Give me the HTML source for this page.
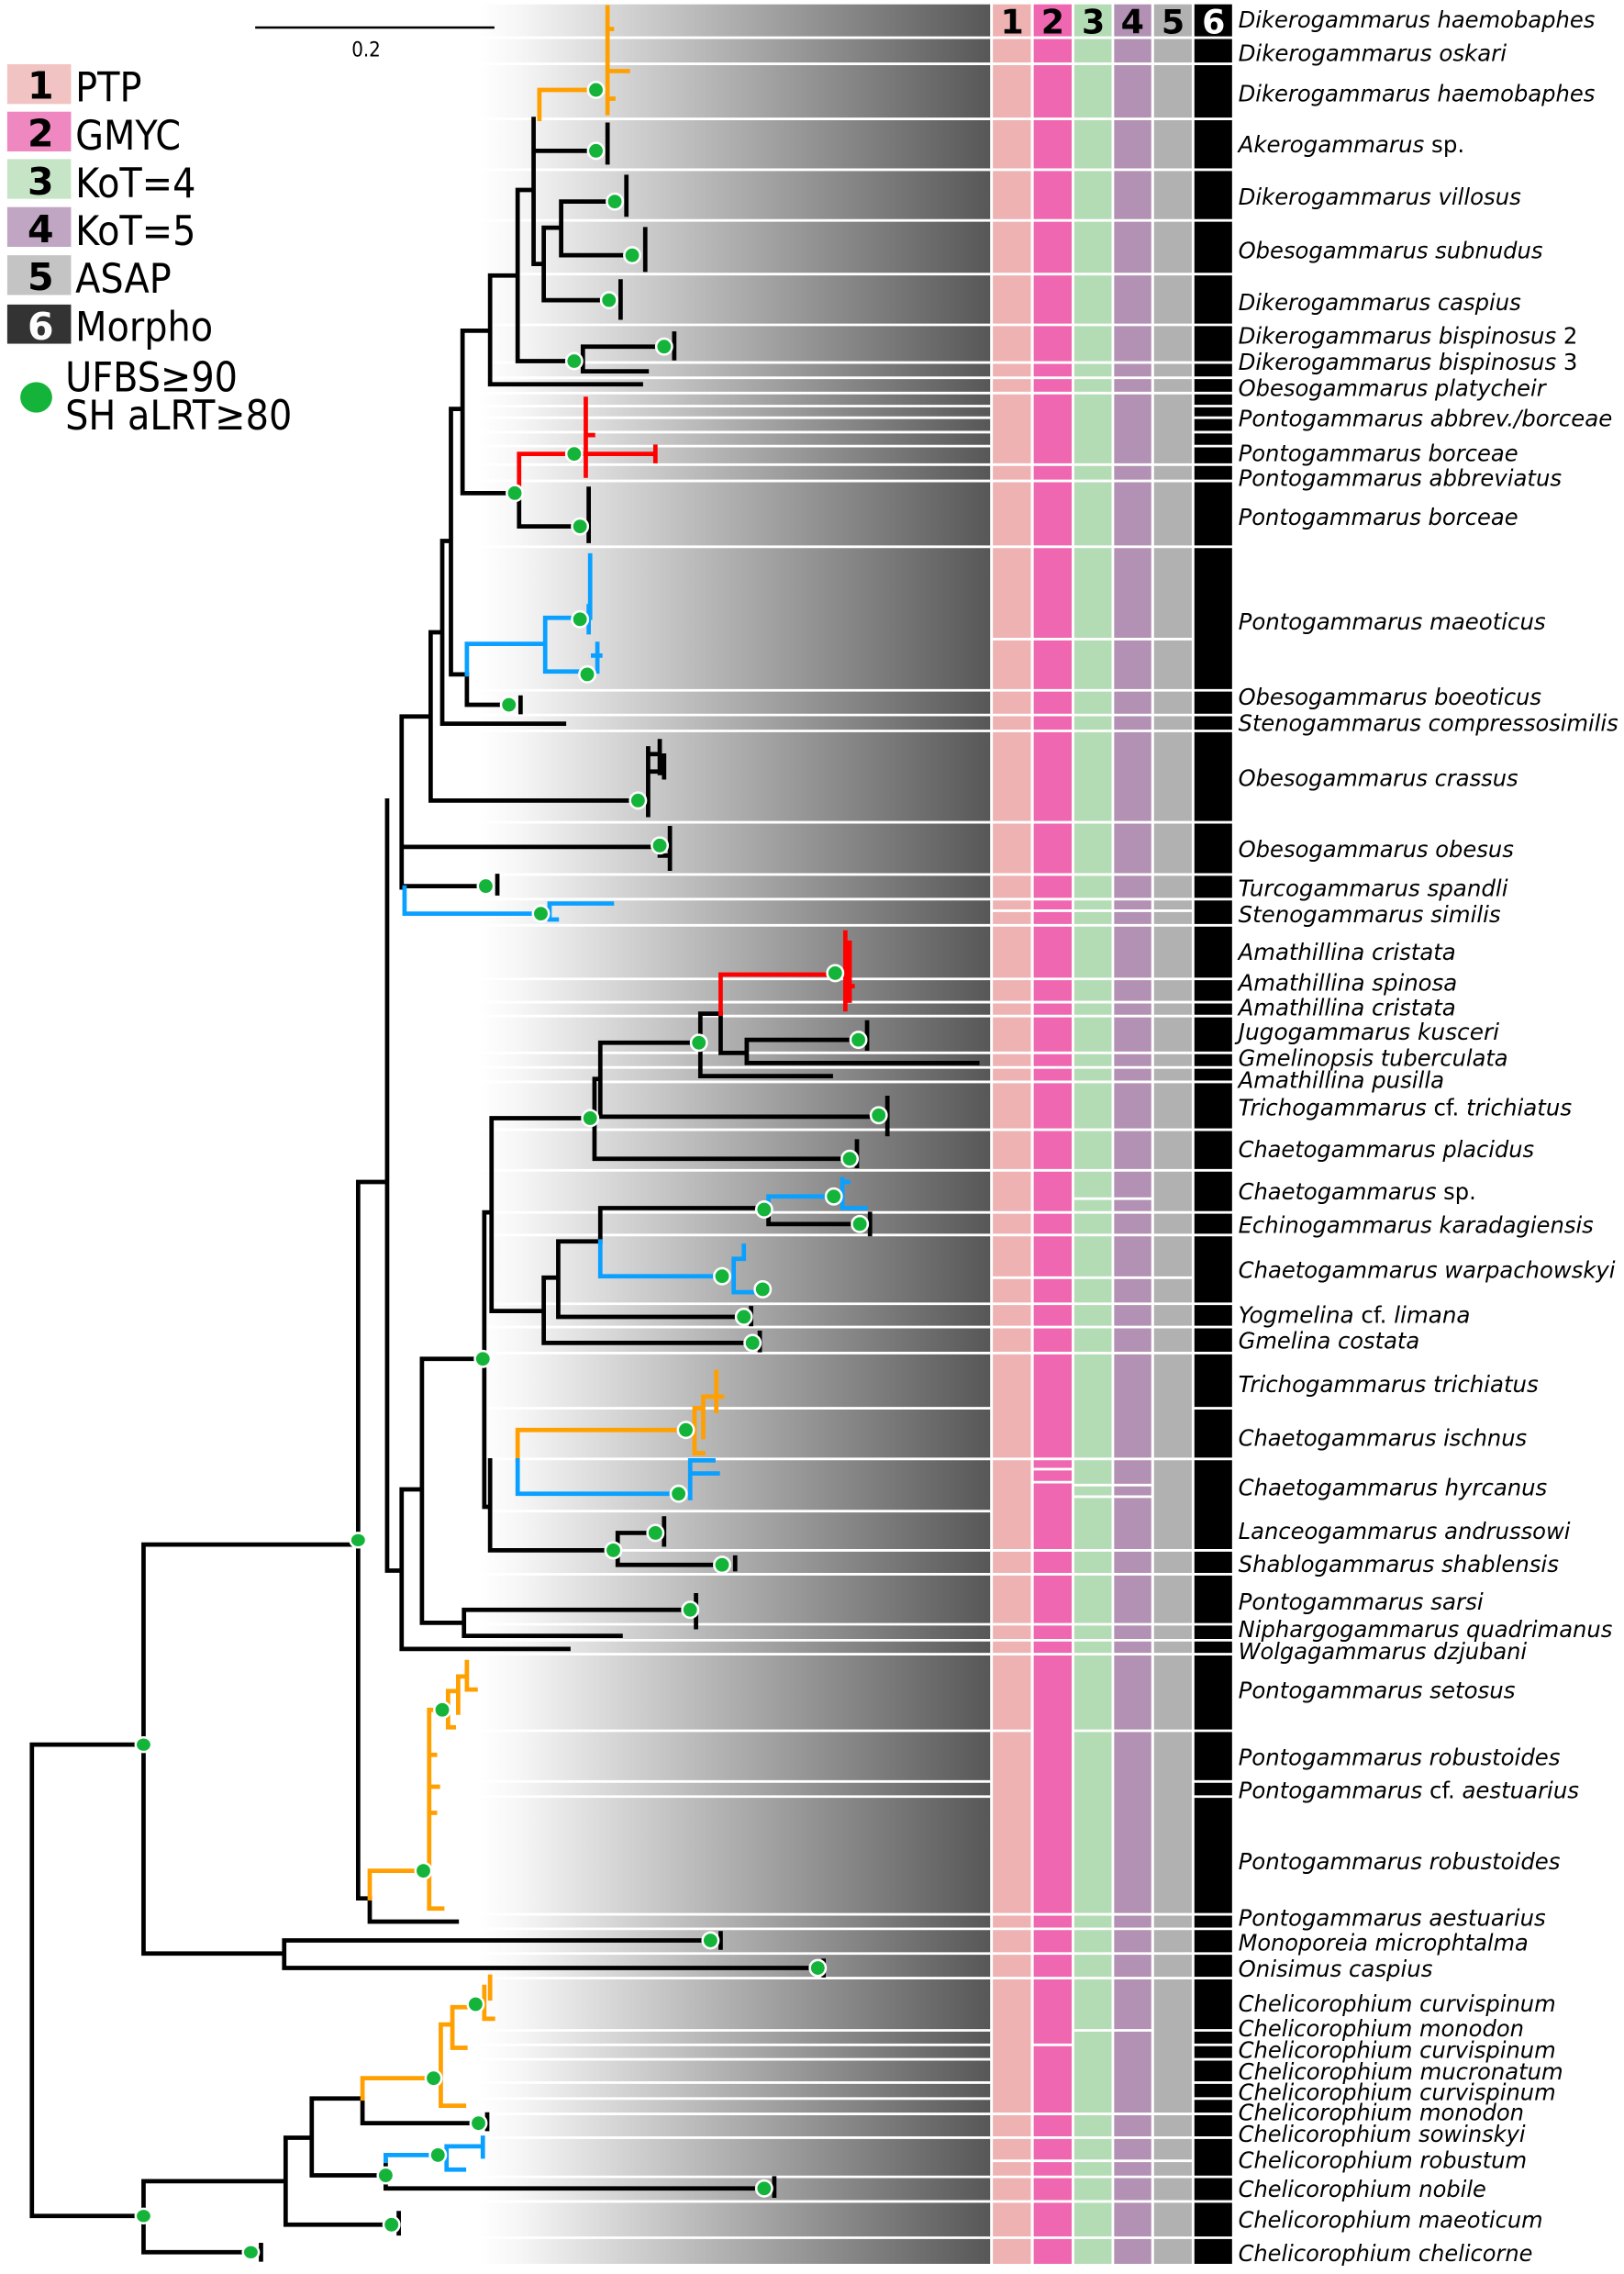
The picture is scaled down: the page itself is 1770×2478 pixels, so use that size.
<!DOCTYPE html>
<html><head><meta charset="utf-8"><style>
html,body{margin:0;padding:0;background:#fff}
svg{display:block}
.lab{font-family:"DejaVu Sans Condensed","DejaVu Sans","Liberation Sans",sans-serif;font-style:italic;font-size:15.5px;fill:#000}
.leg{font-family:"DejaVu Sans Condensed","Liberation Sans",sans-serif;font-size:28px;fill:#000}
.num{font-family:"DejaVu Sans","Liberation Sans",sans-serif;font-weight:bold;font-size:23px;text-anchor:middle}
.k{fill:none;stroke:#000;stroke-width:3;stroke-linecap:square}
.o{fill:none;stroke:#ff9f00;stroke-width:3;stroke-linecap:square}
.r{fill:none;stroke:#ff0000;stroke-width:3;stroke-linecap:square}
.b{fill:none;stroke:#0aa0ff;stroke-width:3;stroke-linecap:square}
.d{fill:#14b43a;stroke:#fff;stroke-width:1.6}
.wl{stroke:#fff;stroke-width:1.8}
</style></head><body>
<svg width="1770" height="2478" viewBox="0 0 1120 1568" preserveAspectRatio="none" xmlns="http://www.w3.org/2000/svg">
<defs><linearGradient id="g" x1="0" x2="1" y1="0" y2="0">
<stop offset="0" stop-color="#ffffff"/><stop offset="0.08" stop-color="#f6f6f6"/><stop offset="1" stop-color="#575757"/></linearGradient></defs>
<rect x="330" y="3" width="353" height="1558" fill="url(#g)"/>
<rect x="684.7" y="3" width="26.8" height="1558" fill="#eeb2b2"/>
<rect x="712.9" y="3" width="26.5" height="1558" fill="#f067b1"/>
<rect x="740.8" y="3" width="26.2" height="1558" fill="#b3dcb4"/>
<rect x="768" y="3" width="26" height="1558" fill="#b291b4"/>
<rect x="795.7" y="3" width="26.3" height="1558" fill="#b1b1b1"/>
<rect x="823.6" y="3" width="26.1" height="1558" fill="#000"/>
<g class="wl">
<path d="M330 26H683M330 44H683M330 82H683M330 117H683M330 152H683M330 189H683M330 224H683M330 250H683M330 260.5H683M330 271H683M330 280H683M330 288H683M330 298H683M330 307.6H683M330 320.4H683M330 331.6H683M330 377H683M330 476H683M330 493H683M330 504H683M330 567H683M330 603H683M330 620H683M330 638H683M330 675H683M330 691H683M330 700.6H683M330 726H683M330 736H683M330 746H683M330 779H683M330 807H683M330 836H683M330 851.6H683M330 899H683M330 915H683M330 933H683M330 971H683M330 1006H683M330 1042H683M330 1069H683M330 1085.5H683M330 1120H683M330 1131H683M330 1140.6H683M330 1193.4H683M330 1228.4H683M330 1238.8H683M330 1320H683M330 1330H683M330 1347H683M330 1364H683M330 1400H683M330 1410H683M330 1420H683M330 1436H683M330 1447H683M330 1457.6H683M330 1474H683M330 1501H683M330 1518H683M330 1543H683"/>
<path d="M823 26H851M823 44H851M823 82H851M823 117H851M823 152H851M823 189H851M823 224H851M823 250H851M823 260.5H851M823 271H851M823 280H851M823 288H851M823 298H851M823 307.6H851M823 320.4H851M823 331.6H851M823 377H851M823 476H851M823 493H851M823 504H851M823 567H851M823 603H851M823 620H851M823 638H851M823 675H851M823 691H851M823 700.6H851M823 726H851M823 736H851M823 746H851M823 779H851M823 807H851M823 836H851M823 851.6H851M823 899H851M823 915H851M823 933H851M823 971H851M823 1006H851M823 1069H851M823 1085.5H851M823 1120H851M823 1131H851M823 1140.6H851M823 1193.4H851M823 1228.4H851M823 1238.8H851M823 1320H851M823 1330H851M823 1347H851M823 1364H851M823 1400H851M823 1410H851M823 1420H851M823 1436H851M823 1447H851M823 1457.6H851M823 1474H851M823 1501H851M823 1518H851M823 1543H851"/>
<path d="M684 26H823M684 44H823M684 82H823M684 117H823M684 152H823M684 189H823M684 224H823M684 250H823M684 260.5H823M684 271H823M684 320.4H823M684 331.6H823M684 377H823M684 440.7H823M684 476H823M684 493H823M684 504H823M684 567H823M684 603H823M684 620H823M684 628H823M684 638H823M684 675H823M684 691H823M684 700.6H823M684 726H823M684 736H823M684 746H823M684 779H823M684 807H823M684 836H823M684 851.6H823M684 881H823M684 899H823M684 915H823M684 933H823M684 1006H823M684 1069H823M684 1085.5H823M684 1120H823M684 1131H823M684 1140.6H823M684 1320H823M684 1330H823M684 1347H823M684 1364H823M684 1457.6H823M684 1474H823M684 1490H823M684 1501H823M684 1518H823M684 1543H823"/>
<path d="M740 826.5H795M712 1013H740M712 1022H740M740 1024H795M740 1032H795M740 1400H795M712 1410H740M684 1193.4H712M740 1193.4H823"/>
<path d="M711.8 3V1561M740 3V1561M767.5 3V1561M795 3V1561M822.8 3V1561M683.8 3V1561"/>
</g>
<text class="num" x="698" y="23" fill="#000">1</text>
<text class="num" x="726" y="23" fill="#000">2</text>
<text class="num" x="754" y="23" fill="#000">3</text>
<text class="num" x="781" y="23" fill="#000">4</text>
<text class="num" x="809" y="23" fill="#000">5</text>
<text class="num" x="837" y="23" fill="#fff">6</text>

<path d="M176 19H341" stroke="#000" stroke-width="1.6"/>
<text x="252.5" y="39" font-family="DejaVu Sans Condensed,Liberation Sans,sans-serif" font-size="14" text-anchor="middle">0.2</text>

<rect x="5" y="44.3" width="44" height="27.4" fill="#f2c3c3"/>
<rect x="5" y="77" width="44" height="27.4" fill="#ef87c1"/>
<rect x="5" y="109.7" width="44" height="27.4" fill="#c6e5c7"/>
<rect x="5" y="142.8" width="44" height="27.4" fill="#c0a6c2"/>
<rect x="5" y="176" width="44" height="27.4" fill="#c4c4c4"/>
<rect x="5" y="210" width="44" height="27" fill="#333"/>
<g class="num" style="font-size:26px"><text x="28" y="68">1</text><text x="28" y="101">2</text><text x="28" y="134">3</text><text x="28" y="167">4</text><text x="28" y="200">5</text><text x="28" y="234" fill="#fff">6</text></g>
<text class="leg" x="52" y="70">PTP</text>
<text class="leg" x="52" y="103">GMYC</text>
<text class="leg" x="52" y="136">KoT=4</text>
<text class="leg" x="52" y="169">KoT=5</text>
<text class="leg" x="52" y="202">ASAP</text>
<text class="leg" x="52" y="235">Morpho</text>
<ellipse cx="25" cy="274" rx="11" ry="10.5" fill="#14b43a"/>
<text class="leg" x="45" y="270">UFBS≥90</text>
<text class="leg" x="45" y="296">SH aLRT≥80</text>

<path class="k" d="M99 1203H22V1528H99M247 1065H99V1347H196M196 1338V1357M196 1338H497M196 1357H564M497 1333V1343M568 1352V1362
M267 815H247V1309H255M255 1309V1325H315
M267 552V1083H277M277 1027V1137M277 1027H291M277 1137H392M291 937V1119M291 937H334M291 1119H320M320 1110V1128M320 1110H480M320 1128H428M480 1100V1122
M334 836V1039M334 836H339M334 1039H338M339 771V904M339 771H410M410 744V799M410 799H591M591 787V804M410 744H414M414 719V770M414 770H612M612 757V782M414 719H483M483 699V742M483 742H573M483 699H497M497 699V726M497 726H515M515 717V733M515 717H598M598 705V723M515 733H674
M339 904H375M375 881V926M375 926H519M524 919V931M375 881H385M385 856V908M385 908H513M518 902V913M385 856H414M414 833V856M414 833H530M530 833V844M530 844H593M600 837V851
M338 1007V1069M338 1069H426M426 1057V1079M426 1057H452M458 1047V1065M426 1079H498M507 1074V1082
M277 494V612M277 494H297M297 436V552M297 552H440M447 516V562M447 520H455M455 511V533M447 532H458M458 521V536M279 584H455M462 571V599M455 590H462M279 611H335M343 604V616
M297 436H305M305 373V499M305 499H389M305 373H311M311 282V465M311 465H322M322 465V486M322 486H351M359 481V491
M311 282H319M319 228V340M319 340H358M358 340V363M358 363H400M406 337V373
M319 228H338M338 190V265M338 265H442M338 190H357M357 131V249M357 249H402M402 239V256M402 239H458M465 230V247M402 256H446
M357 131H368M368 82V182M368 104H412M419 86V112M368 182H375M375 157V207M375 207H420M428 194V219M375 157H387M387 139V176M387 139H425M432 122V148M387 176H437M445 158V186
M99 1504H197M99 1504V1553M99 1553H173M180 1548V1558M197 1474V1534M197 1474H215M197 1534H270M275 1526V1540M215 1447V1500M215 1447H250M215 1500H266M266 1490V1509M266 1509H527M534 1502V1514M250 1447V1464M250 1464H330M336 1458V1468"/>
<path class="o" d="M255 1309V1290H292M296 1179V1316H305M296 1179H309M309 1166V1191H313M309 1166H316M316 1156V1181M316 1156H322M322 1146V1165H328M296 1232H302M296 1210H300M296 1250H300
M372 82V62H411M419 5V78M419 49H433M419 20H422M419 68H423
M250 1447V1433H299M304 1396V1452H320M304 1396H312M312 1384V1412H321M312 1384H328M334 1370V1392M334 1392H340M338 1363V1378
M357 1007V986H474M479 971V1002H484M479 971H485M485 963V991M485 963H498M494 946V973M479 1002H485"/>
<path class="r" d="M358 340V313H404M404 275V328M404 313H452M452 308V318M407 300H409M497 699V672H577M583 643V696M586 650V690M583 680H588"/>
<path class="b" d="M322 465V444H376M376 426V463M376 426H400M376 463H405M407 383V426M406 418V436M412 444V463M409 452H414
M279 612V630H373M379 623V634M379 623H422M379 634H384
M414 856V880H498M506 868V891M506 868H513M513 859V868M506 891H520
M530 833V825H575M581 813V833H597M581 815H585
M357 1007V1030H468M476 1010V1033M476 1016H495M476 1007H492
M266 1490V1486H302M308 1480V1496H320M308 1480H333M333 1474V1487"/>
<g class="d">
<ellipse cx="99" cy="1203" rx="5.5" ry="5"/><ellipse cx="247" cy="1062" rx="5.5" ry="5"/><ellipse cx="99" cy="1528" rx="5.5" ry="5"/>
<circle cx="490" cy="1338" r="5.5"/><circle cx="564" cy="1357" r="5.5"/><circle cx="292" cy="1290" r="5.5"/><circle cx="305" cy="1179" r="5.5"/>
<circle cx="333" cy="937" r="5.5"/><circle cx="476" cy="1110" r="5.5"/><circle cx="407" cy="771" r="5.5"/><circle cx="586" cy="799" r="5.5"/>
<circle cx="606" cy="769" r="5.5"/><circle cx="482" cy="719" r="5.5"/><circle cx="576" cy="671" r="5.5"/><circle cx="592" cy="717" r="5.5"/>
<circle cx="519" cy="926" r="5.5"/><circle cx="513" cy="908" r="5.5"/><circle cx="527" cy="834" r="5.5"/><circle cx="498" cy="880" r="5.5"/>
<circle cx="526" cy="889" r="5.5"/><circle cx="575" cy="825" r="5.5"/><circle cx="593" cy="844" r="5.5"/><circle cx="473" cy="986" r="5.5"/>
<circle cx="468" cy="1030" r="5.5"/><circle cx="452" cy="1057" r="5.5"/><circle cx="423" cy="1069" r="5.5"/><circle cx="498" cy="1079" r="5.5"/>
<circle cx="440" cy="552" r="5.5"/><circle cx="455" cy="583" r="5.5"/><circle cx="335" cy="611" r="5.5"/><circle cx="373" cy="630" r="5.5"/>
<circle cx="400" cy="427" r="5.5"/><circle cx="405" cy="465" r="5.5"/><circle cx="351" cy="486" r="5.5"/><circle cx="355" cy="340" r="5.5"/>
<circle cx="396" cy="313" r="5.5"/><circle cx="400" cy="363" r="5.5"/><circle cx="396" cy="249" r="5.5"/><circle cx="458" cy="239" r="5.5"/>
<circle cx="411" cy="62" r="5.5"/><circle cx="411" cy="104" r="5.5"/><circle cx="424" cy="139" r="5.5"/><circle cx="436" cy="176" r="5.5"/>
<circle cx="420" cy="207" r="5.5"/><circle cx="299" cy="1433" r="5.5"/><circle cx="328" cy="1382" r="5.5"/><circle cx="330" cy="1464" r="5.5"/>
<circle cx="266" cy="1500" r="5.5"/><circle cx="302" cy="1486" r="5.5"/><circle cx="527" cy="1509" r="5.5"/><circle cx="270" cy="1534" r="5.5"/>
<ellipse cx="173" cy="1553" rx="5.5" ry="5"/>
</g>

<g class="lab">
<text x="854" y="19" textLength="246" lengthAdjust="spacingAndGlyphs">Dikerogammarus haemobaphes</text>
<text x="854" y="42" textLength="185" lengthAdjust="spacingAndGlyphs">Dikerogammarus oskari</text>
<text x="854" y="70" textLength="246" lengthAdjust="spacingAndGlyphs">Dikerogammarus haemobaphes</text>
<text x="854" y="105" textLength="156" lengthAdjust="spacingAndGlyphs">Akerogammarus <tspan font-style="normal">sp.</tspan></text>
<text x="854" y="141" textLength="195" lengthAdjust="spacingAndGlyphs">Dikerogammarus villosus</text>
<text x="854" y="178" textLength="210" lengthAdjust="spacingAndGlyphs">Obesogammarus subnudus</text>
<text x="854" y="214" textLength="195" lengthAdjust="spacingAndGlyphs">Dikerogammarus caspius</text>
<text x="854" y="237" textLength="234" lengthAdjust="spacingAndGlyphs">Dikerogammarus bispinosus <tspan font-style="normal">2</tspan></text>
<text x="854" y="255" textLength="234" lengthAdjust="spacingAndGlyphs">Dikerogammarus bispinosus <tspan font-style="normal">3</tspan></text>
<text x="854" y="273" textLength="212" lengthAdjust="spacingAndGlyphs">Obesogammarus platycheir</text>
<text x="854" y="294" textLength="258" lengthAdjust="spacingAndGlyphs">Pontogammarus abbrev./borceae</text>
<text x="854" y="318" textLength="193" lengthAdjust="spacingAndGlyphs">Pontogammarus borceae</text>
<text x="854" y="335" textLength="223" lengthAdjust="spacingAndGlyphs">Pontogammarus abbreviatus</text>
<text x="854" y="362" textLength="193" lengthAdjust="spacingAndGlyphs">Pontogammarus borceae</text>
<text x="854" y="434" textLength="212" lengthAdjust="spacingAndGlyphs">Pontogammarus maeoticus</text>
<text x="854" y="486" textLength="209" lengthAdjust="spacingAndGlyphs">Obesogammarus boeoticus</text>
<text x="854" y="504" textLength="262" lengthAdjust="spacingAndGlyphs">Stenogammarus compressosimilis</text>
<text x="854" y="542" textLength="193" lengthAdjust="spacingAndGlyphs">Obesogammarus crassus</text>
<text x="854" y="591" textLength="190" lengthAdjust="spacingAndGlyphs">Obesogammarus obesus</text>
<text x="854" y="618" textLength="186" lengthAdjust="spacingAndGlyphs">Turcogammarus spandli</text>
<text x="854" y="636" textLength="181" lengthAdjust="spacingAndGlyphs">Stenogammarus similis</text>
<text x="854" y="662" textLength="150" lengthAdjust="spacingAndGlyphs">Amathillina cristata</text>
<text x="854" y="683" textLength="151" lengthAdjust="spacingAndGlyphs">Amathillina spinosa</text>
<text x="854" y="700" textLength="150" lengthAdjust="spacingAndGlyphs">Amathillina cristata</text>
<text x="854" y="717" textLength="180" lengthAdjust="spacingAndGlyphs">Jugogammarus kusceri</text>
<text x="854" y="735" textLength="186" lengthAdjust="spacingAndGlyphs">Gmelinopsis tuberculata</text>
<text x="854" y="750" textLength="142" lengthAdjust="spacingAndGlyphs">Amathillina pusilla</text>
<text x="854" y="769" textLength="230" lengthAdjust="spacingAndGlyphs">Trichogammarus <tspan font-style="normal">cf.</tspan> trichiatus</text>
<text x="854" y="798" textLength="204" lengthAdjust="spacingAndGlyphs">Chaetogammarus placidus</text>
<text x="854" y="827" textLength="164" lengthAdjust="spacingAndGlyphs">Chaetogammarus <tspan font-style="normal">sp.</tspan></text>
<text x="854" y="850" textLength="245" lengthAdjust="spacingAndGlyphs">Echinogammarus karadagiensis</text>
<text x="854" y="881" textLength="260" lengthAdjust="spacingAndGlyphs">Chaetogammarus warpachowskyi</text>
<text x="854" y="912" textLength="160" lengthAdjust="spacingAndGlyphs">Yogmelina <tspan font-style="normal">cf.</tspan> limana</text>
<text x="854" y="930" textLength="125" lengthAdjust="spacingAndGlyphs">Gmelina costata</text>
<text x="854" y="960" textLength="207" lengthAdjust="spacingAndGlyphs">Trichogammarus trichiatus</text>
<text x="854" y="997" textLength="199" lengthAdjust="spacingAndGlyphs">Chaetogammarus ischnus</text>
<text x="854" y="1031" textLength="213" lengthAdjust="spacingAndGlyphs">Chaetogammarus hyrcanus</text>
<text x="854" y="1061" textLength="229" lengthAdjust="spacingAndGlyphs">Lanceogammarus andrussowi</text>
<text x="854" y="1084" textLength="221" lengthAdjust="spacingAndGlyphs">Shablogammarus shablensis</text>
<text x="854" y="1110" textLength="169" lengthAdjust="spacingAndGlyphs">Pontogammarus sarsi</text>
<text x="854" y="1129" textLength="258" lengthAdjust="spacingAndGlyphs">Niphargogammarus quadrimanus</text>
<text x="854" y="1144" textLength="199" lengthAdjust="spacingAndGlyphs">Wolgagammarus dzjubani</text>
<text x="854" y="1171" textLength="191" lengthAdjust="spacingAndGlyphs">Pontogammarus setosus</text>
<text x="854" y="1217" textLength="222" lengthAdjust="spacingAndGlyphs">Pontogammarus robustoides</text>
<text x="854" y="1240" textLength="235" lengthAdjust="spacingAndGlyphs">Pontogammarus <tspan font-style="normal">cf.</tspan> aestuarius</text>
<text x="854" y="1289" textLength="222" lengthAdjust="spacingAndGlyphs">Pontogammarus robustoides</text>
<text x="854" y="1328" textLength="212" lengthAdjust="spacingAndGlyphs">Pontogammarus aestuarius</text>
<text x="854" y="1345" textLength="200" lengthAdjust="spacingAndGlyphs">Monoporeia microphtalma</text>
<text x="854" y="1363" textLength="134" lengthAdjust="spacingAndGlyphs">Onisimus caspius</text>
<text x="854" y="1387" textLength="219" lengthAdjust="spacingAndGlyphs">Chelicorophium curvispinum</text>
<text x="854" y="1404" textLength="197" lengthAdjust="spacingAndGlyphs">Chelicorophium monodon</text>
<text x="854" y="1419" textLength="219" lengthAdjust="spacingAndGlyphs">Chelicorophium curvispinum</text>
<text x="854" y="1434" textLength="224" lengthAdjust="spacingAndGlyphs">Chelicorophium mucronatum</text>
<text x="854" y="1448" textLength="219" lengthAdjust="spacingAndGlyphs">Chelicorophium curvispinum</text>
<text x="854" y="1462" textLength="197" lengthAdjust="spacingAndGlyphs">Chelicorophium monodon</text>
<text x="854" y="1477" textLength="198" lengthAdjust="spacingAndGlyphs">Chelicorophium sowinskyi</text>
<text x="854" y="1495" textLength="199" lengthAdjust="spacingAndGlyphs">Chelicorophium robustum</text>
<text x="854" y="1515" textLength="171" lengthAdjust="spacingAndGlyphs">Chelicorophium nobile</text>
<text x="854" y="1536" textLength="210" lengthAdjust="spacingAndGlyphs">Chelicorophium maeoticum</text>
<text x="854" y="1559" textLength="203" lengthAdjust="spacingAndGlyphs">Chelicorophium chelicorne</text>
</g>
</svg>
</body></html>
